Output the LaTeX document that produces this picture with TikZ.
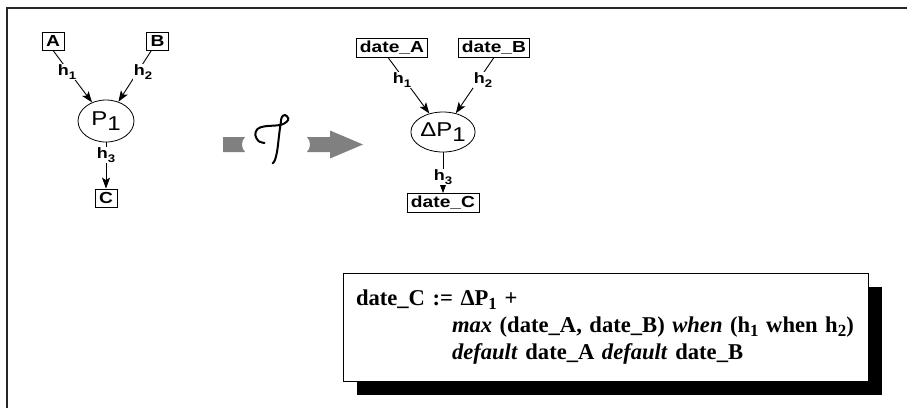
\documentclass[tikz,border=0pt]{standalone}
\usepackage{fontspec}
\setmainfont{Liberation Serif}
\newfontfamily\hv{Liberation Sans}
\usepackage{graphicx}
\usetikzlibrary{arrows.meta,shadows,calc,shapes.geometric}
\newcommand\sx[1]{\scalebox{1.2}[1]{#1}}
\newcommand\hsub[1]{\raisebox{-3.5pt}{\fontsize{11}{11}\selectfont #1}}
\newcommand\psub[1]{\raisebox{-5pt}{#1}}
\newcommand\eqsub[1]{\raisebox{-4.5pt}{\fontsize{17}{17}\selectfont #1}}
\tikzset{
 leaf/.style={draw, line width=0.8pt, inner sep=0pt, minimum height=18pt, font=\hv\bfseries\fontsize{16}{16}\selectfont},
 proc/.style={draw, ellipse, line width=0.8pt, inner sep=0pt, font=\hv\fontsize{20}{20}\selectfont},
 lab/.style={fill=white, inner sep=1pt, font=\hv\bfseries\fontsize{15}{15}\selectfont},
 conn/.style={line width=0.9pt, -{Stealth[length=11pt,width=8pt,inset=2.5pt]}},
 bigarrow/.style={fill=black!50, draw=none},
 glyph/.style={line width=2pt, line cap=round, line join=round},
 eqbox/.style={draw, line width=0.8pt, fill=white, minimum height=108pt, inner xsep=13pt, inner ysep=0pt, align=left, text width=499pt, font=\bfseries\fontsize{22.6}{27}\selectfont, drop shadow={shadow xshift=14pt, shadow yshift=-14pt, fill=black, opacity=1}}
}
\begin{document}
\begin{tikzpicture}[x=1pt,y=-1pt]
\useasboundingbox (0,0) rectangle (907,408);
\draw[line width=1.6pt, black!85] (907,8) -- (7,8) -- (7,408);

% left graph
\node[leaf, minimum width=22pt] (A) at (53,41) {\sx{A}};
\node[leaf, minimum width=22pt] (B) at (157.5,41) {\sx{B}};
\node[proc, minimum width=56pt, minimum height=42pt] (P1) at (106,121) {\sx{P\psub{1}}};
\node[leaf, minimum width=22pt] (C) at (106,198) {\sx{C}};
\draw[conn] (A.south) -- (P1);
\draw[conn] (B) -- (P1);
\draw[conn] (P1) -- (C);
\node[lab] (h1L) at (67,72) {\sx{h\hsub{1}}};
\node[lab] (h2L) at (143,72) {\sx{h\hsub{2}}};
\node[lab] (h3L) at (106,155) {\sx{h\hsub{3}}};

% transformation arrow
\fill[bigarrow] (223,137) -- (245,137) .. controls (241,141) and (241,148) .. (245,152) -- (223,152) -- cycle;
\draw[glyph] plot[smooth, tension=0.6] coordinates {(264.5,143) (258.5,141) (255.3,135) (257.5,129) (265,126.3) (280,125) (286.7,121.7) (288.3,118.3) (285,115) (281.7,117.3) (280.7,123.3) (279.3,133.3) (277.3,150) (275,160) (272.5,163.5)};
\fill[bigarrow] (307,137) -- (330,137) -- (330,130.5) -- (363,144.5) -- (330,158.5) -- (330,152) -- (307,152) .. controls (311,148) and (311,141) .. (307,137) -- cycle;

% right graph
\node[leaf, minimum width=71pt, minimum height=19pt] (dA) at (392,47.5) {\sx{date\_A}};
\node[leaf, minimum width=71pt, minimum height=19pt] (dB) at (494,47.5) {\sx{date\_B}};
\node[proc, minimum width=59pt, minimum height=40pt] (dP) at (443,132) {\sx{ΔP\psub{1}}};
\node[leaf, minimum width=72pt, minimum height=19pt] (dC) at (443,203) {\sx{date\_C}};
\draw[conn] ($(dA.south)+(-4,0)$) -- (dP);
\draw[conn] (dB.south) -- (dP);
\draw[conn] (dP) -- (dC);
\node[lab] (h1R) at (402,80) {\sx{h\hsub{1}}};
\node[lab] (h2R) at (483,80) {\sx{h\hsub{2}}};
\node[lab] (h3R) at (443,177) {\sx{h\hsub{3}}};

% equation box
\node[eqbox] (eq) at (605.5,327) {\mbox{date\_C := ΔP\eqsub{1} +}\\
\mbox{\hspace*{96pt}\textit{max} (date\_A, date\_B) \textit{when} (h\eqsub{1} when h\eqsub{2})}\\
\mbox{\hspace*{96pt}\textit{default} date\_A \textit{default} date\_B}};
\end{tikzpicture}
\end{document}
